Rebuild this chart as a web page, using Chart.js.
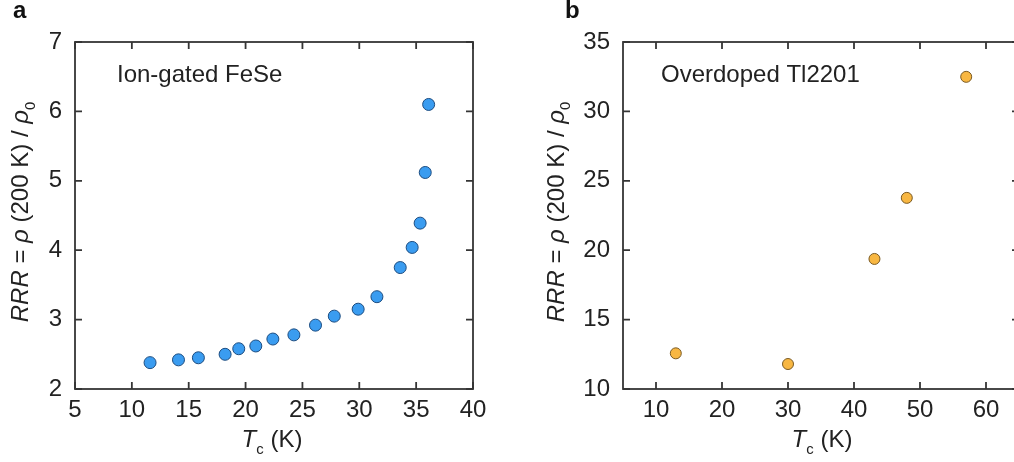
<!DOCTYPE html>
<html>
<head>
<meta charset="utf-8">
<script src="https://cdn.jsdelivr.net/npm/chart.js@4/dist/chart.umd.min.js"></script>
<style>
  html, body { margin: 0; padding: 0; background: #fff; overflow: hidden; width: 1014px; height: 462px; }
  canvas { position: absolute; top: 0; }
  #panelA { left: 0; }
  #panelB { left: 507px; }
</style>
</head>
<body>
<canvas id="panelA" width="507" height="462"></canvas>
<canvas id="panelB" width="530" height="462"></canvas>
<script>
// Panel a: ion-gated FeSe
const tcFeSe  = [11.6, 14.1, 15.85, 18.2, 19.4, 20.9, 22.4, 24.25, 26.15, 27.8, 29.9, 31.55, 33.6, 34.65, 35.35, 35.8, 36.1];
const rrrFeSe = [2.38, 2.42, 2.45, 2.50, 2.58, 2.62, 2.72, 2.78, 2.92, 3.05, 3.15, 3.33, 3.75, 4.04, 4.39, 5.12, 6.10];
const xTicksA = [5, 10, 15, 20, 25, 30, 35, 40];
const yTicksA = [2, 3, 4, 5, 6, 7];

// Panel b: overdoped Tl2201
const tcTl  = [13, 30, 43.1, 48, 57];
const rrrTl = [12.57, 11.8, 19.37, 23.77, 32.49];
const xTicksB = [10, 20, 30, 40, 50, 60];
const yTicksB = [10, 15, 20, 25, 30, 35];

const FONT = "'Liberation Sans', Arial, Helvetica, sans-serif";
const INK = '#222222';
const FRAME = '#353535';
const SIZE = 24;

// Draws a run of text pieces (italic / subscript) starting at x, on baseline y.
function drawRich(ctx, pieces, x, y, size) {
  let cx = x;
  for (const p of pieces) {
    const s = p.sub ? size * 0.62 : size;
    ctx.font = (p.italic ? 'italic ' : '') + s + 'px ' + FONT;
    ctx.fillText(p.t, cx, y + (p.sub ? size * 0.28 : 0));
    cx += ctx.measureText(p.t).width;
  }
  return cx - x;
}
function richWidth(ctx, pieces, size) {
  let w = 0;
  for (const p of pieces) {
    const s = p.sub ? size * 0.62 : size;
    ctx.font = (p.italic ? 'italic ' : '') + s + 'px ' + FONT;
    w += ctx.measureText(p.t).width;
  }
  return w;
}

const yTitle = [
  { t: 'RRR', italic: true }, { t: ' = ' }, { t: 'ρ', italic: true },
  { t: ' (200 K) / ' }, { t: 'ρ', italic: true }, { t: '0', sub: true }
];
const xTitle = [{ t: 'T', italic: true }, { t: 'c', sub: true }, { t: ' (K)' }];

// Box frame with inward ticks on all four sides, plus titles and labels.
const framePlugin = {
  id: 'frame',
  beforeDatasetsDraw(chart, args, opts) {
    const { ctx, chartArea: a, scales: { x, y } } = chart;
    ctx.save();
    ctx.strokeStyle = FRAME;
    ctx.lineWidth = 1.8;
    ctx.strokeRect(a.left, a.top, a.right - a.left, a.bottom - a.top);
    const L = 7;
    ctx.beginPath();
    for (const v of opts.xt) {
      const px = x.getPixelForValue(v);
      ctx.moveTo(px, a.bottom); ctx.lineTo(px, a.bottom - L);
      ctx.moveTo(px, a.top); ctx.lineTo(px, a.top + L);
    }
    for (const v of opts.yt) {
      const py = y.getPixelForValue(v);
      ctx.moveTo(a.left, py); ctx.lineTo(a.left + L, py);
      ctx.moveTo(a.right, py); ctx.lineTo(a.right - L, py);
    }
    ctx.stroke();
    ctx.restore();
  },
  afterDraw(chart, args, opts) {
    const { ctx, chartArea: a } = chart;
    ctx.save();
    ctx.fillStyle = INK;
    ctx.textBaseline = 'alphabetic';
    ctx.textAlign = 'left';
    // x-axis title
    const xw = richWidth(ctx, xTitle, SIZE);
    const cx = (a.left + a.right) / 2 + opts.xTitleShift;
    drawRich(ctx, xTitle, cx - xw / 2, 447, SIZE);
    // y-axis title, rotated
    ctx.save();
    const yw = richWidth(ctx, yTitle, SIZE);
    ctx.translate(opts.yTitleX, 212);
    ctx.rotate(-Math.PI / 2);
    drawRich(ctx, yTitle, -yw / 2, 0, SIZE);
    ctx.restore();
    // sample label inside the plot
    ctx.font = SIZE + 'px ' + FONT;
    ctx.fillText(opts.label, opts.labelX, 82);
    // panel letter
    ctx.font = 'bold 24px ' + FONT;
    ctx.fillStyle = '#111';
    ctx.fillText(opts.letter, opts.letterX, 18);
    ctx.restore();
  }
};

function makePanel(id, xs, ys, xt, yt, xmin, xmax, ymin, ymax, fill, edge, yAxisWidth, padRight, frameOpts) {
  const tickFont = { family: FONT, size: SIZE };
  return new Chart(document.getElementById(id), {
    type: 'scatter',
    data: {
      datasets: [{
        data: xs.map((v, i) => ({ x: v, y: ys[i] })),
        backgroundColor: fill,
        borderColor: edge,
        borderWidth: 1,
        pointRadius: frameOpts.r,
        pointHoverRadius: frameOpts.r
      }]
    },
    options: {
      responsive: false,
      animation: false,
      devicePixelRatio: 1,
      events: [],
      layout: { padding: { left: 0, top: 42, right: padRight, bottom: 0 } },
      plugins: { legend: { display: false }, tooltip: { enabled: false }, frame: frameOpts },
      scales: {
        x: {
          type: 'linear', min: xmin, max: xmax,
          grid: { display: false, drawTicks: false },
          border: { display: false },
          ticks: { font: tickFont, color: INK, padding: 7, autoSkip: false, maxRotation: 0, minRotation: 0 },
          afterBuildTicks: s => { s.ticks = xt.map(v => ({ value: v })); },
          afterFit: s => { s.height = 462 - 389; }
        },
        y: {
          type: 'linear', min: ymin, max: ymax,
          grid: { display: false, drawTicks: false },
          border: { display: false },
          ticks: { font: tickFont, color: INK, padding: 13, autoSkip: false },
          afterBuildTicks: s => { s.ticks = yt.map(v => ({ value: v })); },
          afterFit: s => { s.width = yAxisWidth; }
        }
      }
    },
    plugins: [framePlugin]
  });
}

makePanel('panelA', tcFeSe, rrrFeSe, xTicksA, yTicksA, 5, 40, 2, 7,
  '#3a9cf0', '#1c4c80', 75, 34,
  { xt: xTicksA, yt: yTicksA, r: 6, xTitleShift: -2, yTitleX: 28, label: 'Ion-gated FeSe', labelX: 117, letter: 'a', letterX: 13 });

makePanel('panelB', tcTl, rrrTl, xTicksB, yTicksB, 5, 65, 10, 35,
  '#f8b742', '#7a5a22', 116, 18,
  { xt: xTicksB, yt: yTicksB, r: 5.5, xTitleShift: 1, yTitleX: 563.5 - 507, label: 'Overdoped Tl2201', labelX: 661 - 507, letter: 'b', letterX: 565 - 507 });
</script>
</body>
</html>
